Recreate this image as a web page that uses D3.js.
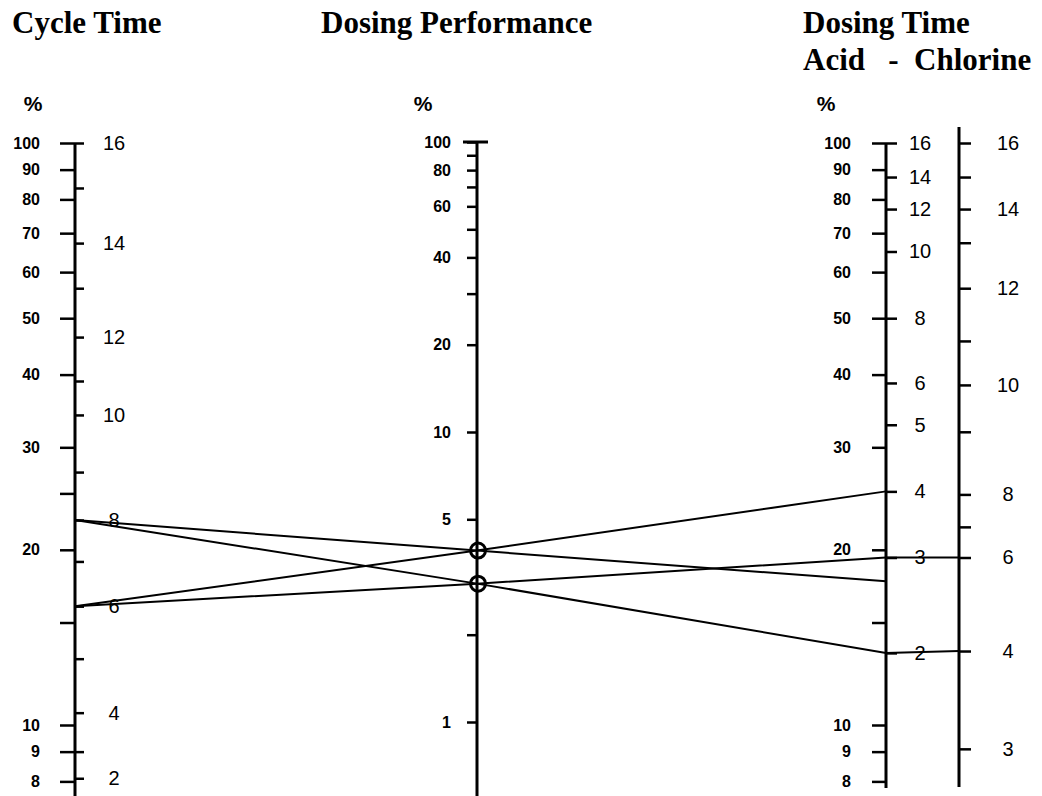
<!DOCTYPE html>
<html>
<head>
<meta charset="utf-8">
<script src="https://cdn.jsdelivr.net/npm/d3@7/dist/d3.min.js"></script>
<style>
  body { margin: 0; background: #fff; }
  svg { display: block; }
  .title { font-family: "Liberation Serif", "Times New Roman", serif; font-weight: bold; font-size: 31px; white-space: pre; }
  .pct text { font-family: "Liberation Sans", Arial, sans-serif; font-weight: bold; font-size: 16px; }
  .val text { font-family: "Liberation Sans", Arial, sans-serif; font-size: 20px; }
  .tick line { stroke: #000; stroke-width: 2.5; }
  .domain { display: none; }
</style>
</head>
<body>
<div id="chart"></div>
<script>
// percent scales (log), shared by the outer axes
var pctTicksLeft = [100, 90, 80, 70, 60, 50, 40, 30, 25, 20, 15, 10, 9, 8];
var pctLabelsLeft = [100, 90, 80, 70, 60, 50, 40, 30, 20, 10, 9, 8];
var pctTicksRight = [100, 90, 80, 70, 60, 50, 40, 30, 20, 15, 10, 9, 8];
var pctLabelsRight = [100, 90, 80, 70, 60, 50, 40, 30, 20, 10, 9, 8];

// cycle time ticks and where they sit on the % scale
var cycleTicks = [16, 15, 14, 13, 12, 11, 10, 9, 8, 7, 6, 5, 4, 3, 2];
var cyclePct = [100, 83.7, 67.3, 56.3, 46.4, 39.0, 34.1, 27.2, 22.5, 19.1, 16.0, 13.0, 10.5, 9.0, 8.1];
var cycleLabels = [16, 14, 12, 10, 8, 6, 4, 2];

// dosing performance (log %)
var perfTicks = [100, 90, 80, 70, 60, 50, 40, 30, 20, 10, 5, 2, 1];
var perfLabels = [100, 80, 60, 40, 20, 10, 5, 1];

// dosing time acid / chlorine
var acidTicks = [16, 14, 12, 10, 8, 6, 5, 4, 3, 2];
var acidPct = [100, 87.4, 77.0, 65.1, 50.0, 38.7, 32.8, 25.2, 19.4, 13.3];
var chlorTicks = [16, 15, 14, 13, 12, 11, 10, 9, 8, 7, 6, 4, 3];
var chlorPct = [100, 87.4, 77.0, 67.4, 56.3, 45.7, 38.4, 31.9, 24.9, 21.9, 19.4, 13.4, 9.1];
var chlorLabels = [16, 14, 12, 10, 8, 6, 4, 3];

// example readings drawn across the nomogram
var readCycle = [8, 8, 6, 6];
var readPerf = [3.9, 3.0, 3.9, 3.0];
var readAcid = [2.75, 2, 4, 3];
var readChlor = [null, 4, null, 6];

var w = 1042, h = 796;
var xLeft = 75, xMid = 477, xAcid = 886, xChlor = 959;

var svg = d3.select("#chart").append("svg")
    .attr("width", w)
    .attr("height", h);

var pctY = d3.scaleLog().domain([10, 100]).range([725, 143]);
var perfY = d3.scaleLog().domain([1, 100]).range([722, 142]);
var cycleY = d3.scaleLinear().domain(cycleTicks).range(cyclePct.map(pctY));
var acidY = d3.scaleLinear().domain(acidTicks).range(acidPct.map(pctY));
var chlorY = d3.scaleLinear().domain(chlorTicks).range(chlorPct.map(pctY));

function fmt(labels) {
    return function(d) { return labels.indexOf(d) >= 0 ? d : ""; };
}

// titles
svg.append("text").attr("class", "title").attr("x", 12).attr("y", 33).text("Cycle Time");
svg.append("text").attr("class", "title").attr("x", 321).attr("y", 33).text("Dosing Performance");
svg.append("text").attr("class", "title").attr("x", 803).attr("y", 33).text("Dosing Time");
svg.append("text").attr("class", "title").attr("x", 803).attr("y", 70).text("Acid   -  Chlorine");

// % headers
[[33, 105], [423, 105], [826, 105]].forEach(function(p) {
    svg.append("text")
      .attr("x", p[0]).attr("y", p[1])
      .attr("text-anchor", "middle")
      .attr("dominant-baseline", "middle")
      .style("font-family", "Liberation Sans, Arial, sans-serif")
      .style("font-weight", "bold")
      .style("font-size", "21px")
      .text("%");
});

// axis lines
var axisLines = [
    [xLeft, pctY(100), h],
    [xMid, perfY(100), h],
    [xAcid, acidY(16), 788],
    [xChlor, 127, 787]
];
axisLines.forEach(function(a) {
    svg.append("line")
      .attr("x1", a[0]).attr("x2", a[0])
      .attr("y1", a[1]).attr("y2", a[2])
      .attr("stroke", "#000")
      .attr("stroke-width", 3);
});

// left axis: % on the left, cycle time on the right
svg.append("g").attr("class", "pct")
    .attr("transform", "translate(" + xLeft + ",0)")
    .call(d3.axisLeft(pctY).tickValues(pctTicksLeft).tickSize(15).tickPadding(20)
        .tickSizeOuter(0).tickFormat(fmt(pctLabelsLeft)));

svg.append("g").attr("class", "val cyc")
    .attr("transform", "translate(" + xLeft + ",0)")
    .call(d3.axisRight(cycleY).tickValues(cycleTicks).tickSize(9).tickPadding(30)
        .tickSizeOuter(0).tickFormat(fmt(cycleLabels)))
    .selectAll("text").attr("text-anchor", "middle");

// middle axis
svg.append("g").attr("class", "pct")
    .attr("transform", "translate(" + xMid + ",0)")
    .call(d3.axisLeft(perfY).tickValues(perfTicks).tickSize(10).tickPadding(16)
        .tickSizeOuter(0).tickFormat(fmt(perfLabels)));
svg.append("line")
    .attr("x1", xMid - 14).attr("x2", xMid + 11)
    .attr("y1", perfY(100)).attr("y2", perfY(100))
    .attr("stroke", "#000").attr("stroke-width", 3);

// acid axis
svg.append("g").attr("class", "pct")
    .attr("transform", "translate(" + xAcid + ",0)")
    .call(d3.axisLeft(pctY).tickValues(pctTicksRight).tickSize(14).tickPadding(21)
        .tickSizeOuter(0).tickFormat(fmt(pctLabelsRight)));

svg.append("g").attr("class", "val")
    .attr("transform", "translate(" + xAcid + ",0)")
    .call(d3.axisRight(acidY).tickValues(acidTicks).tickSize(11).tickPadding(23)
        .tickSizeOuter(0))
    .selectAll("text").attr("text-anchor", "middle");

// chlorine axis
svg.append("g").attr("class", "val")
    .attr("transform", "translate(" + xChlor + ",0)")
    .call(d3.axisRight(chlorY).tickValues(chlorTicks).tickSize(12).tickPadding(37)
        .tickSizeOuter(0).tickFormat(fmt(chlorLabels)))
    .selectAll("text").attr("text-anchor", "middle");

// reading lines
var line = d3.line();
readCycle.forEach(function(c, i) {
    var pts = [
        [xLeft, cycleY(c)],
        [xMid, perfY(readPerf[i])],
        [xAcid, acidY(readAcid[i])]
    ];
    if (readChlor[i] != null) pts.push([xChlor, chlorY(readChlor[i])]);
    svg.append("path")
      .attr("d", line(pts))
      .attr("fill", "none")
      .attr("stroke", "#000")
      .attr("stroke-width", 2);
});

// circles on the performance axis
var perfPoints = Array.from(new Set(readPerf));
svg.selectAll("circle.pt")
    .data(perfPoints)
    .enter().append("circle")
    .attr("class", "pt")
    .attr("cx", xMid + 1)
    .attr("cy", function(d) { return perfY(d); })
    .attr("r", 7.5)
    .attr("fill", "none")
    .attr("stroke", "#000")
    .attr("stroke-width", 3);
</script>
</body>
</html>
